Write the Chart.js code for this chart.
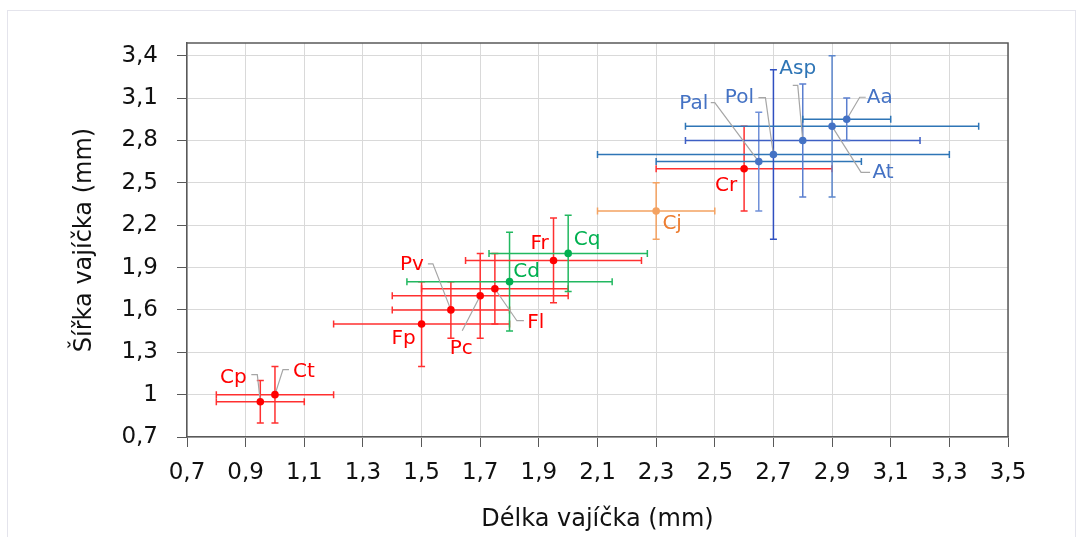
<!DOCTYPE html>
<html>
<head>
<meta charset="utf-8">
<script src="https://cdn.jsdelivr.net/npm/chart.js@4/dist/chart.umd.min.js"></script>
<style>
  body { margin: 0; background: #fff; }
  #wrap { width: 1083px; height: 537px; position: relative; }
</style>
</head>
<body>
<div id="wrap"><canvas id="eggs" width="1083" height="537"></canvas></div>
<script>
// species and egg size (mm)
const species = ["Cp", "Ct", "Fp", "Pv", "Pc", "Fl", "Cd", "Fr", "Cq", "Cj", "Cr", "Pal", "Pol", "Asp", "At", "Aa"];
const lengths = [0.95, 1.0, 1.5, 1.6, 1.7, 1.75, 1.8, 1.95, 2.0, 2.3, 2.6, 2.65, 2.7, 2.8, 2.9, 2.95];
const widths = [0.95, 1.0, 1.5, 1.6, 1.7, 1.75, 1.8, 1.95, 2.0, 2.3, 2.6, 2.65, 2.7, 2.8, 2.9, 2.95];
const lengthErr = [0.15, 0.2, 0.3, 0.2, 0.3, 0.25, 0.35, 0.3, 0.27, 0.2, 0.3, 0.35, 0.6, 0.4, 0.5, 0.15];
const widthErr = [0.15, 0.2, 0.3, 0.2, 0.3, 0.25, 0.35, 0.3, 0.27, 0.2, 0.3, 0.35, 0.6, 0.4, 0.5, 0.15];

const xTicks = [0.7, 0.9, 1.1, 1.3, 1.5, 1.7, 1.9, 2.1, 2.3, 2.5, 2.7, 2.9, 3.1, 3.3, 3.5];
const yTicks = [0.7, 1.0, 1.3, 1.6, 1.9, 2.2, 2.5, 2.8, 3.1, 3.4];

// styles
const RED = "#FF0000", GREEN = "#00B050", ORANGE = "#F4A261", BLUE = "#4472C4";
const markerColors = [RED, RED, RED, RED, RED, RED, GREEN, RED, GREEN, ORANGE, RED, BLUE, BLUE, BLUE, BLUE, BLUE];
const xBarColors = ["#FF3030", "#FF3030", "#FF3030", "#FF3030", "#FF3030", "#FF3030", "#22B860", "#FF3030", "#22B860", "#F4A261", "#FF3030",
  "#2E75B6", "#2E75B6", "#3D5FC4", "#2E75B6", "#2E75B6"];
const yBarColors = ["#FF3030", "#FF3030", "#FF3030", "#FF3030", "#FF3030", "#FF3030", "#22B860", "#FF3030", "#22B860", "#F4A261", "#FF3030",
  "#7090D8", "#2F4FC0", "#5B7FCF", "#5B86CC", "#5B7FCF"];
const labelColors = [RED, RED, RED, RED, RED, RED, GREEN, RED, GREEN, "#ED7D31", RED, BLUE, BLUE, "#2E75B6", BLUE, BLUE];
// label centre offsets (px) from the marker
const labelOffsets = [[-27, -24], [29, -23], [-18, 15], [-39, -45], [-19, 53], [41, 34], [17, -10], [-14, -17], [19, -14],
  [16, 13], [-18, 17], [-65, -58], [-34, -57], [-5, -72], [51, 46], [33, -21]];
// leader lines: start, elbow (px from the marker), then to the marker
const leaders = [[[-9, -27], [-3, -27]], [[14, -25], [8, -25]], null, [[-23, -46], [-18, -46]], [[-18, 35], [-18, 35]],
  [[29, 32], [22, 32]], null, null, null, null, null, [[-48, -59], [-44, -59]], [[-15, -57], [-8, -57]],
  [[-10, -55], [-5, -55]], [[38, 46], [29, 46]], [[19, -22], [13, -22]]];

const fmt = (v) => String(Number(v.toFixed(2))).replace(".", ",");
const FONT = "'DejaVu Sans', sans-serif";

const errorBars = {
  id: "errorBars",
  beforeDraw(chart) {
    const ctx = chart.ctx;
    ctx.save();
    ctx.fillStyle = "#fff";
    ctx.fillRect(0, 0, chart.width, chart.height);
    ctx.strokeStyle = "#E4E4EC";
    ctx.lineWidth = 1;
    ctx.strokeRect(7.5, 10.5, 1068, 540);
    ctx.restore();
  },
  beforeDatasetsDraw(chart) {
    const ctx = chart.ctx;
    const xs = chart.scales.x, ys = chart.scales.y;
    ctx.save();
    ctx.lineWidth = 1.5;
    const cap = 3.5;
    species.forEach((s, i) => {
      const px = xs.getPixelForValue(lengths[i]);
      const py = ys.getPixelForValue(widths[i]);
      const x1 = xs.getPixelForValue(lengths[i] - lengthErr[i]);
      const x2 = xs.getPixelForValue(lengths[i] + lengthErr[i]);
      const y1 = ys.getPixelForValue(widths[i] - widthErr[i]);
      const y2 = ys.getPixelForValue(widths[i] + widthErr[i]);
      ctx.strokeStyle = xBarColors[i];
      ctx.beginPath();
      ctx.moveTo(x1, py); ctx.lineTo(x2, py);
      ctx.moveTo(x1, py - cap); ctx.lineTo(x1, py + cap);
      ctx.moveTo(x2, py - cap); ctx.lineTo(x2, py + cap);
      ctx.stroke();
      ctx.strokeStyle = yBarColors[i];
      ctx.beginPath();
      ctx.moveTo(px, y1); ctx.lineTo(px, y2);
      ctx.moveTo(px - cap, y1); ctx.lineTo(px + cap, y1);
      ctx.moveTo(px - cap, y2); ctx.lineTo(px + cap, y2);
      ctx.stroke();
    });
    // leader lines
    ctx.strokeStyle = "#A6A6A6";
    ctx.lineWidth = 1.2;
    species.forEach((s, i) => {
      const l = leaders[i];
      if (!l) return;
      const px = xs.getPixelForValue(lengths[i]);
      const py = ys.getPixelForValue(widths[i]);
      ctx.beginPath();
      ctx.moveTo(px + l[0][0], py + l[0][1]);
      ctx.lineTo(px + l[1][0], py + l[1][1]);
      ctx.lineTo(px, py);
      ctx.stroke();
    });
    ctx.restore();
  },
  afterDatasetsDraw(chart) {
    const ctx = chart.ctx;
    const xs = chart.scales.x, ys = chart.scales.y;
    const a = chart.chartArea;
    ctx.save();
    // plot frame
    ctx.strokeStyle = "#595959";
    ctx.lineWidth = 1.5;
    ctx.beginPath();
    ctx.moveTo(a.left, a.top); ctx.lineTo(a.right, a.top); ctx.lineTo(a.right, a.bottom);
    ctx.stroke();
    // point labels
    ctx.font = "20px " + FONT;
    ctx.textAlign = "center";
    ctx.textBaseline = "middle";
    species.forEach((s, i) => {
      const px = xs.getPixelForValue(lengths[i]);
      const py = ys.getPixelForValue(widths[i]);
      ctx.fillStyle = labelColors[i];
      ctx.fillText(s, px + labelOffsets[i][0], py + labelOffsets[i][1]);
    });
    ctx.restore();
  }
};

const datasets = species.map((s, i) => ({
  label: s,
  data: [{ x: lengths[i], y: widths[i] }],
  backgroundColor: markerColors[i],
  borderColor: markerColors[i],
  pointRadius: 3.8,
  pointHoverRadius: 3.8,
  borderWidth: 0
}));

const config = {
  type: "scatter",
  data: { datasets: datasets },
  options: {
    responsive: false,
    animation: false,
    devicePixelRatio: 1,
    layout: { padding: { left: 0, top: 43, right: 75, bottom: 0 } },
    plugins: { legend: { display: false }, tooltip: { enabled: false } },
    scales: {
      x: {
        type: "linear",
        min: 0.7,
        max: 3.5,
        afterBuildTicks: (axis) => { axis.ticks = xTicks.map((v) => ({ value: v })); },
        afterFit: (s) => { s.height = 100; },
        ticks: { callback: (v) => fmt(v), color: "#111", font: { family: FONT, size: 23 }, padding: 12, maxRotation: 0, autoSkip: false },
        grid: { color: "#D9D9D9", tickColor: "#595959", tickLength: 10 },
        border: { color: "#595959", width: 1.5 },
        title: { display: true, text: "Délka vajíčka (mm)", color: "#111", font: { family: FONT, size: 24 }, padding: { top: 0, bottom: 3 } }
      },
      y: {
        type: "linear",
        min: 0.7,
        max: 3.49,
        afterBuildTicks: (axis) => { axis.ticks = yTicks.map((v) => ({ value: v })); },
        afterFit: (s) => { s.width = 187; },
        ticks: { callback: (v) => fmt(v), color: "#111", font: { family: FONT, size: 23 }, padding: 19, autoSkip: false },
        grid: { color: "#D9D9D9", tickColor: "#595959", tickLength: 10 },
        border: { color: "#595959", width: 1.5 },
        title: { display: true, text: "Šířka vajíčka (mm)", color: "#111", font: { family: FONT, size: 24 }, padding: { top: 70, bottom: 0 } }
      }
    }
  },
  plugins: [errorBars]
};

let chart = new Chart(document.getElementById("eggs").getContext("2d"), config);
</script>
</body>
</html>
